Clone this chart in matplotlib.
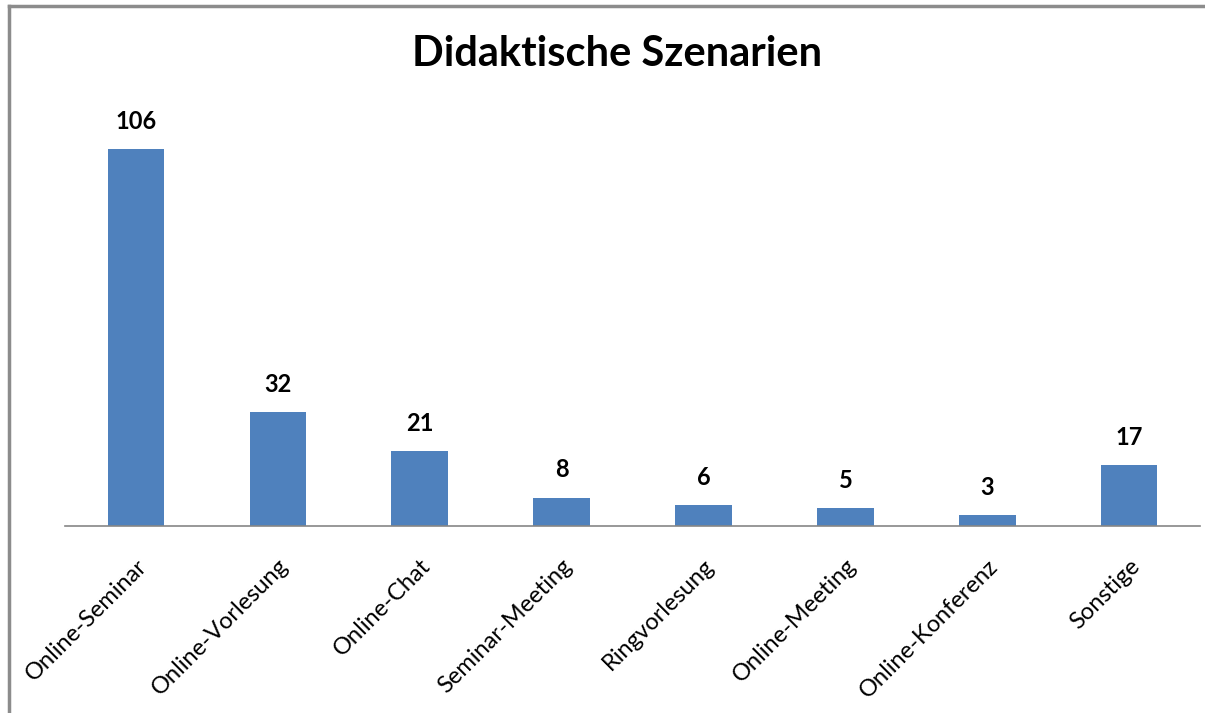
import matplotlib.pyplot as plt

# Daten
kategorien = ['Online-Seminar', 'Online-Vorlesung', 'Online-Chat', 'Seminar-Meeting',
              'Ringvorlesung', 'Online-Meeting', 'Online-Konferenz', 'Sonstige']
werte = [106, 32, 21, 8, 6, 5, 3, 17]

plt.rcParams['font.family'] = ['Lato', 'DejaVu Sans']

fig = plt.figure(figsize=(12.05, 7.13), dpi=100)
ax = fig.add_axes([0.054, 0.2623, 0.9419, 0.5989])

x = range(len(kategorien))
bars = ax.bar(x, werte, width=0.4, color='#4F81BD')
for xi, v in zip(x, werte):
    ax.text(xi, v + 4.5, str(v), ha='center', va='bottom', fontsize=17, fontweight='bold')

ax.set_xlim(-0.5, len(kategorien) - 0.5)
ax.set_ylim(0, 120)
ax.set_xticks(list(x))
ax.set_xticklabels(kategorien, rotation=45, ha='right', rotation_mode='anchor', fontsize=17)
ax.tick_params(axis='x', length=0, pad=21)
ax.set_yticks([])
for s in ['top', 'right', 'left']:
    ax.spines[s].set_visible(False)
ax.spines['bottom'].set_color('#868686')
ax.spines['bottom'].set_linewidth(1.2)

fig.text(0.512, 0.924, 'Didaktische Szenarien', ha='center', va='center',
         fontsize=30, fontweight='bold')

# Rahmen links und oben
fig.add_artist(plt.Line2D([0.0075, 0.0075], [0, 0.992], color='#8c8c8c', lw=2.5))
fig.add_artist(plt.Line2D([0.0075, 1], [0.992, 0.992], color='#8c8c8c', lw=2.5))

plt.savefig('out.png')
